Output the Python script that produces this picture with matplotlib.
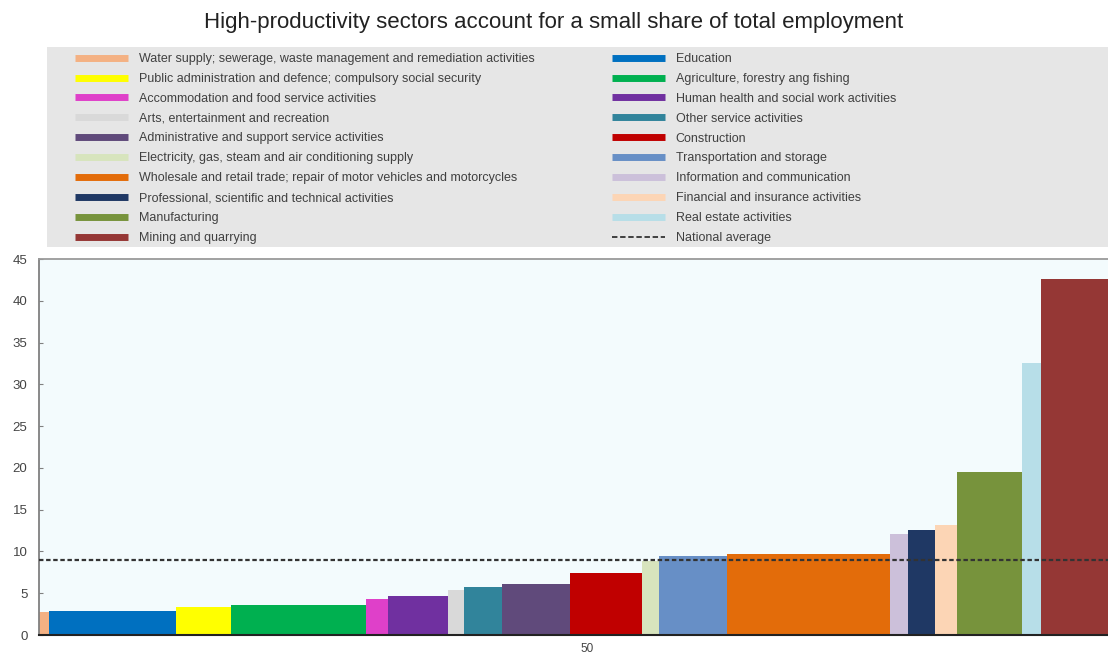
import numpy as np
import matplotlib
matplotlib.use("Agg")
import matplotlib.pyplot as plt
from matplotlib.lines import Line2D
from matplotlib.patches import Rectangle

plt.rcParams['font.family'] = ['Liberation Sans', 'DejaVu Sans']

# sectors in the order they appear along the x axis
sectors = [
    "Water supply; sewerage, waste management and remediation activities",
    "Education",
    "Public administration and defence; compulsory social security",
    "Agriculture, forestry ang fishing",
    "Accommodation and food service activities",
    "Human health and social work activities",
    "Arts, entertainment and recreation",
    "Other service activities",
    "Administrative and support service activities",
    "Construction",
    "Electricity, gas, steam and air conditioning supply",
    "Transportation and storage",
    "Wholesale and retail trade; repair of motor vehicles and motorcycles",
    "Information and communication",
    "Professional, scientific and technical activities",
    "Financial and insurance activities",
    "Manufacturing",
    "Real estate activities",
    "Mining and quarrying",
]
# share of total employment (bar width) and productivity (bar height)
emp_share = [0.98, 11.56, 5.05, 12.29, 2.01, 5.44, 1.46, 3.44, 6.20, 6.57,
             1.58, 6.15, 14.93, 1.64, 2.46, 1.95, 5.96, 1.76, 8.57]
productivity = [2.7, 2.9, 3.3, 3.6, 4.3, 4.7, 5.4, 5.7, 6.1, 7.4,
                8.8, 9.4, 9.7, 12.1, 12.6, 13.2, 19.5, 32.5, 42.6]
national_avg = 9.0
colors = ["#F4B183", "#0070C0", "#FFFF00", "#00B050", "#DF40C9", "#7030A0",
          "#D9D9D9", "#31849B", "#604A7B", "#C00000", "#D7E4BD", "#678FC6",
          "#E36C0A", "#CCC0DA", "#1F3864", "#FCD5B5", "#77933C", "#B7DEE8",
          "#953735"]

fig = plt.figure(figsize=(11.08, 6.58), dpi=100)
ax = fig.add_axes([0.03475, 0.03495, 0.96525, 0.5714])
ax.set_facecolor("#F3FBFD")

lefts = np.concatenate([[0], np.cumsum(emp_share)[:-1]])
ax.bar(lefts, productivity, width=emp_share, align="edge", color=colors,
       linewidth=0, zorder=2)
ax.axhline(national_avg, color="#333333", lw=1.6, linestyle=(0, (2, 1.2)), zorder=3)

ax.set_xlim(0, 97.5)
ax.set_ylim(0, 45)
ax.set_yticks(np.arange(0, 46, 5))
ax.set_xticks([50])
ax.tick_params(axis="y", direction="in", length=3, color="#808080",
               labelsize=9.5, labelcolor="#444444", pad=8)
ax.tick_params(axis="x", length=0, labelsize=8.5, labelcolor="#444444", pad=6)
ax.spines["right"].set_visible(False)
ax.spines["left"].set_color("#808080")
ax.spines["top"].set_color("#9A9A9A")
ax.spines["left"].set_linewidth(1.3)
ax.spines["top"].set_linewidth(1.3)
ax.spines["bottom"].set_color("#222222")
ax.spines["bottom"].set_linewidth(1.5)

fig.text(0.5, 0.966, "High-productivity sectors account for a small share of total employment",
         ha="center", va="center", fontsize=16, color="#222222")

# grey legend box
fig.patches.append(Rectangle((47 / 1108, (658 - 247) / 658), 1 - 47 / 1108, 200 / 658,
                             transform=fig.transFigure, facecolor="#E6E6E6",
                             edgecolor="none", zorder=0))

handles = [Line2D([], [], color=c, lw=5, solid_capstyle="butt") for c in colors]
handles.append(Line2D([], [], color="#333333", lw=1.3, linestyle=(0, (3, 1.5))))
labels = sectors + ["National average"]

leg_kw = dict(loc="upper left", frameon=False, handlelength=4.2, handletextpad=0.9,
              labelspacing=0.63, borderpad=0, borderaxespad=0, fontsize=9,
              labelcolor="#404040")
fig.legend(handles[0::2], labels[0::2], bbox_to_anchor=(75 / 1108, (658 - 53) / 658), **leg_kw)
fig.legend(handles[1::2], labels[1::2], bbox_to_anchor=(612 / 1108, (658 - 53) / 658), **leg_kw)

fig.savefig("out.png", dpi=100)
